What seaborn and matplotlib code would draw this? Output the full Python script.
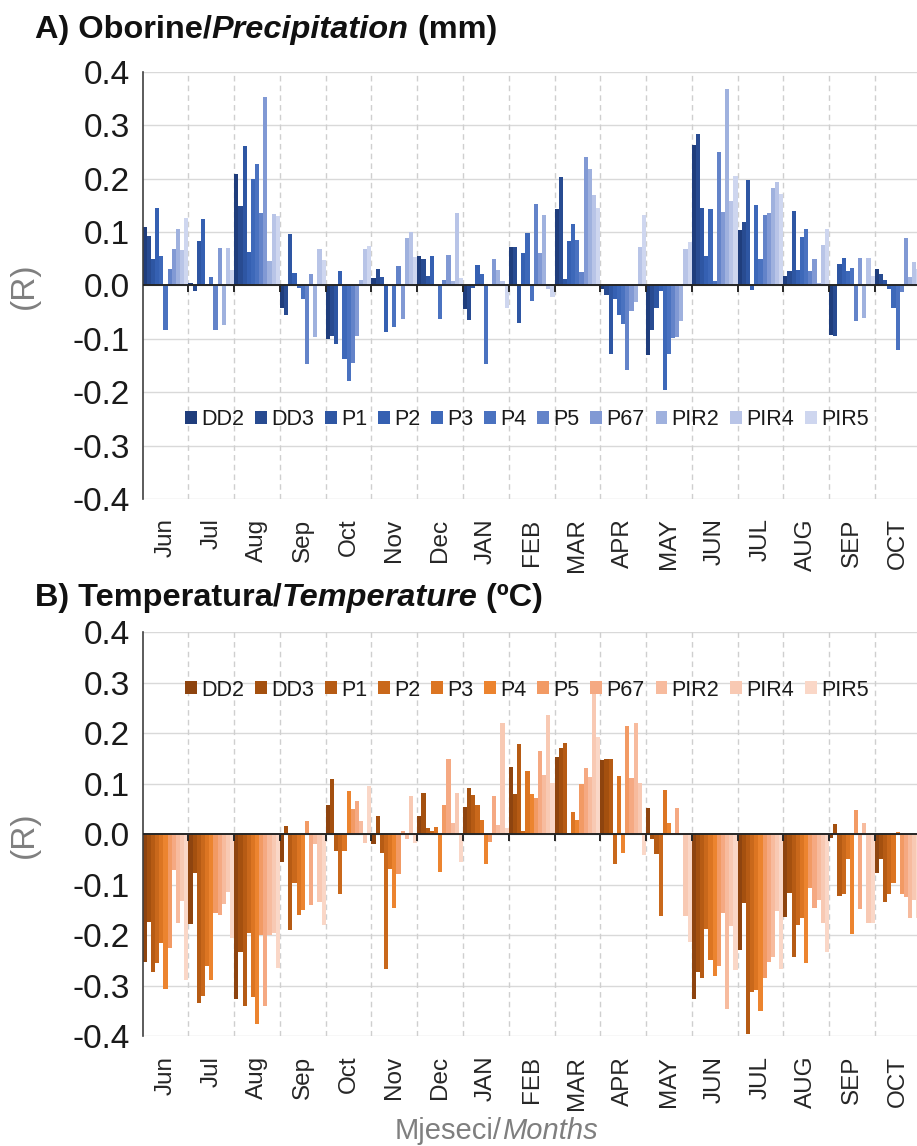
import matplotlib
matplotlib.use("Agg")
import matplotlib.pyplot as plt
from matplotlib.patches import Patch
import pandas as pd
import seaborn as sns

months = ["Jun", "Jul", "Aug", "Sep", "Oct", "Nov", "Dec", "JAN", "FEB", "MAR",
          "APR", "MAY", "JUN", "JUL", "AUG", "SEP", "OCT"]
sites = ["DD2", "DD3", "P1", "P2", "P3", "P4", "P5", "P67", "PIR2", "PIR4", "PIR5"]

# correlation (R) per month, one value per site (same order as sites)
precip_r = [
    [0.110, 0.093, 0.050, 0.146, 0.055, -0.083, 0.031, 0.068, 0.105, 0.066, 0.126],
    [0.005, -0.010, 0.084, 0.124, 0.002, 0.016, -0.084, 0.070, -0.075, 0.070, 0.029],
    [0.208, 0.148, 0.261, 0.063, 0.200, 0.227, 0.136, 0.353, 0.046, 0.133, 0.130],
    [-0.042, -0.056, 0.096, 0.024, -0.004, -0.026, -0.148, 0.021, -0.096, 0.068, 0.047],
    [-0.100, -0.094, -0.109, 0.028, -0.138, -0.179, -0.146, -0.095, 0.010, 0.068, 0.074],
    [0.014, 0.030, 0.016, -0.088, 0.000, -0.078, 0.036, -0.063, 0.088, 0.100, 0.053],
    [0.055, 0.050, 0.018, 0.055, 0.000, -0.063, 0.010, 0.058, 0.008, 0.136, 0.014],
    [-0.045, -0.064, -0.004, 0.038, 0.022, -0.148, 0.000, 0.049, 0.029, 0.009, -0.042],
    [0.073, 0.072, -0.070, 0.060, 0.099, -0.029, 0.152, 0.061, 0.132, -0.006, -0.022],
    [0.144, 0.203, 0.013, 0.083, 0.116, 0.085, 0.026, 0.241, 0.218, 0.169, 0.146],
    [-0.006, -0.017, -0.128, -0.026, -0.056, -0.073, -0.158, -0.048, -0.031, 0.072, 0.132],
    [-0.131, -0.084, -0.042, -0.011, -0.195, -0.128, -0.099, -0.096, -0.067, 0.068, 0.081],
    [0.263, 0.284, 0.146, 0.055, 0.143, 0.009, 0.250, 0.138, 0.368, 0.158, 0.206],
    [0.103, 0.118, 0.198, -0.008, 0.150, 0.049, 0.132, 0.135, 0.183, 0.194, 0.172],
    [0.018, 0.028, 0.140, 0.029, 0.090, 0.106, 0.028, 0.049, 0.005, 0.075, 0.105],
    [-0.092, -0.094, 0.041, 0.052, 0.027, 0.033, -0.066, 0.052, -0.061, 0.051, 0.018],
    [0.030, 0.021, 0.010, -0.006, -0.042, -0.121, -0.012, 0.088, 0.016, 0.044, 0.030],
]

temp_r = [
    [-0.252, -0.173, -0.273, -0.255, -0.216, -0.306, -0.226, -0.071, -0.175, -0.132, -0.288],
    [-0.178, -0.077, -0.335, -0.320, -0.260, -0.288, -0.155, -0.160, -0.139, -0.114, -0.205],
    [-0.326, -0.234, -0.340, -0.196, -0.323, -0.376, -0.200, -0.340, -0.200, -0.195, -0.264],
    [-0.054, 0.017, -0.189, -0.096, -0.160, -0.149, 0.026, -0.140, -0.019, -0.135, -0.180],
    [0.057, 0.109, -0.034, -0.119, -0.033, 0.086, 0.051, 0.066, 0.026, -0.017, 0.096],
    [-0.019, 0.036, -0.038, -0.267, -0.069, -0.145, -0.079, 0.007, -0.010, 0.076, -0.017],
    [0.036, 0.081, 0.012, 0.007, 0.015, -0.074, 0.058, 0.149, 0.022, 0.081, -0.054],
    [0.055, 0.091, 0.077, 0.058, 0.028, -0.059, -0.015, 0.075, 0.018, 0.221, 0.013],
    [0.134, 0.080, 0.179, 0.007, 0.125, 0.079, 0.071, 0.165, 0.117, 0.236, 0.101],
    [0.154, 0.170, 0.180, 0.003, 0.045, 0.028, 0.099, 0.132, 0.113, 0.283, 0.193],
    [0.147, 0.150, 0.149, -0.059, 0.116, -0.038, 0.215, 0.111, 0.221, 0.101, -0.041],
    [0.053, -0.010, -0.039, -0.161, 0.088, 0.023, 0.003, 0.053, 0.000, -0.161, -0.213],
    [-0.327, -0.273, -0.284, -0.187, -0.248, -0.280, -0.261, -0.156, -0.346, -0.181, -0.269],
    [-0.230, -0.137, -0.396, -0.313, -0.308, -0.349, -0.285, -0.253, -0.242, -0.151, -0.267],
    [-0.163, -0.117, -0.242, -0.180, -0.166, -0.255, -0.107, -0.145, -0.130, -0.176, -0.234],
    [-0.008, 0.020, -0.123, -0.118, -0.048, -0.198, 0.048, -0.147, 0.023, -0.176, -0.175],
    [-0.077, -0.048, -0.135, -0.118, -0.097, 0.004, -0.118, -0.125, -0.166, -0.130, -0.165],
]

blues = ["#1f3d7c", "#284b91", "#2e56a3", "#3560b2", "#3d68b9", "#4a72c0", "#6383c9",
         "#8199d4", "#9fb1de", "#b8c4e7", "#ced6ef"]
oranges = ["#8e440f", "#a4500f", "#b65b14", "#c9681b", "#dc7522", "#ec842f", "#f29a64",
           "#f5a982", "#f7bb9e", "#f8c9b3", "#fad7c7"]

yticks = [0.4, 0.3, 0.2, 0.1, 0.0, -0.1, -0.2, -0.3, -0.4]


def to_long(values):
    rows = []
    for month, vals in zip(months, values):
        for site, v in zip(sites, vals):
            rows.append({"month": month, "site": site, "r": v})
    return pd.DataFrame(rows)


def mixed_text(fig, x, y, parts, size, color, weight, ha="left"):
    renderer = fig.canvas.get_renderer()
    texts = []
    widths = []
    for txt, style in parts:
        t = fig.text(0, y, txt, fontsize=size, fontweight=weight, fontstyle=style,
                     color=color, va="center", ha="left")
        texts.append(t)
        widths.append(t.get_window_extent(renderer=renderer).width / fig.bbox.width)
    if ha == "center":
        x = x - sum(widths) / 2
    for t, w in zip(texts, widths):
        t.set_x(x)
        x += w


def draw_panel(ax, values, colors, legend_y):
    df = to_long(values)
    sns.barplot(data=df, x="month", y="r", hue="site", order=months, hue_order=sites,
                palette=colors, width=1.0, saturation=1, errorbar=None, legend=False,
                linewidth=0, ax=ax)
    ax.set_xlim(-0.5, len(months) - 0.5)
    ax.set_ylim(-0.4, 0.4)
    ax.set_yticks(yticks)
    ax.set_yticklabels([f"{t:.1f}" for t in yticks])
    ax.grid(False)
    for t in yticks:
        ax.axhline(t, color="#d9d9d9", lw=1.0, zorder=0)
    for k in range(len(months) - 1):
        ax.axvline(k + 0.5, color="#cfcfcf", lw=1.0, ls=(0, (4, 3)), zorder=0)
    ax.axhline(0, color="#262626", lw=1.4, zorder=3)
    ax.vlines([k + 0.5 for k in range(len(months) - 1)], -0.013, 0, color="#262626",
              lw=1.4, zorder=3)
    for side in ["top", "right", "bottom"]:
        ax.spines[side].set_visible(False)
    ax.spines["left"].set_color("#404040")
    ax.spines["left"].set_linewidth(1.2)
    ax.tick_params(axis="y", labelsize=24, length=5, color="#404040", labelcolor="#1a1a1a", pad=4)
    ax.tick_params(axis="x", labelsize=17.5, length=0, labelrotation=90, labelcolor="#262626", pad=14)
    ax.set_xlabel("")
    ax.set_ylabel("(R)", fontsize=24, color="#7f7f7f", labelpad=24)
    handles = [Patch(facecolor=c, edgecolor="none") for c in colors]
    ax.legend(handles, sites, loc="center", bbox_to_anchor=(0.494, legend_y), ncol=len(sites),
              frameon=False, fontsize=15.5, handlelength=0.55, handleheight=0.55,
              handletextpad=0.2, columnspacing=0.5, borderaxespad=0, labelcolor="#1a1a1a")


sns.set_theme(style="white")
plt.rcParams["font.family"] = ["Liberation Sans", "DejaVu Sans"]

fig = plt.figure(figsize=(9.17, 11.46), dpi=100)
ax_a = fig.add_axes([0.1556, 0.5646, 0.8483, 0.3726])
ax_b = fig.add_axes([0.1556, 0.0957, 0.8483, 0.3526])

draw_panel(ax_a, precip_r, blues, 0.185)
draw_panel(ax_b, temp_r, oranges, 0.857)

mixed_text(fig, 0.038, 1 - 30 / 1146,
           [("A) Oborine/", "normal"), ("Precipitation", "italic"), (" (mm)", "normal")],
           23.4, "#111111", "bold")
mixed_text(fig, 0.038, 1 - 598 / 1146,
           [("B) Temperatura/", "normal"), ("Temperature", "italic"), (" (ºC)", "normal")],
           23.4, "#111111", "bold")
mixed_text(fig, 0.541, 1 - 1131 / 1146,
           [("Mjeseci/", "normal"), ("Months", "italic")],
           21, "#7f7f7f", "normal", ha="center")

fig.savefig("out.png", dpi=100)
